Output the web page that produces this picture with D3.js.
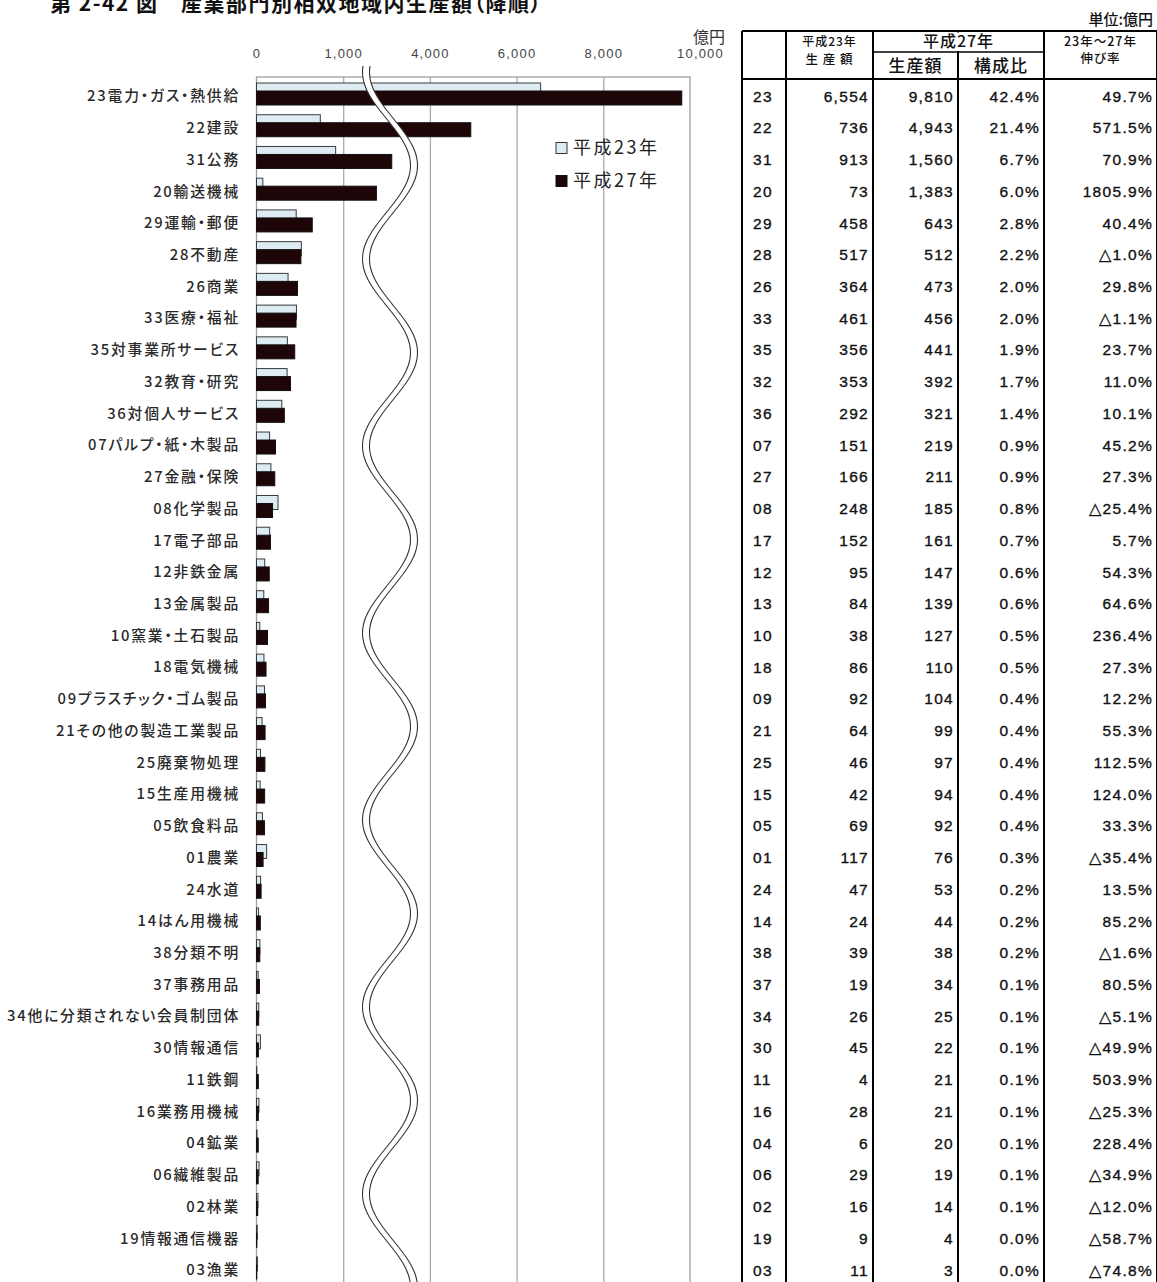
<!DOCTYPE html>
<html><head><meta charset="utf-8">
<script src="https://cdn.jsdelivr.net/npm/d3@7"></script>
<style>
body{margin:0;background:#fff;}
svg text{font-family:"Noto Sans CJK JP","Noto Sans",sans-serif;font-feature-settings:"palt";}
.num{font-family:"Liberation Sans",Arial,sans-serif !important;}
</style></head><body>
<svg id="c" width="1157" height="1282"></svg>
<script>
const codes = ["23","22","31","20","29","28","26","33","35","32","36","07","27","08","17","12","13","10","18","09","21","25","15","05","01","24","14","38","37","34","30","11","16","04","06","02","19","03"];
const names = ["電力・ガス・熱供給","建設","公務","輸送機械","運輸・郵便","不動産","商業","医療・福祉","対事業所サービス","教育・研究","対個人サービス","パルプ・紙・木製品","金融・保険","化学製品","電子部品","非鉄金属","金属製品","窯業・土石製品","電気機械","プラスチック・ゴム製品","その他の製造工業製品","廃棄物処理","生産用機械","飲食料品","農業","水道","はん用機械","分類不明","事務用品","他に分類されない会員制団体","情報通信","鉄鋼","業務用機械","鉱業","繊維製品","林業","情報通信機器","漁業"];
const h23 = [6554,736,913,73,458,517,364,461,356,353,292,151,166,248,152,95,84,38,86,92,64,46,42,69,117,47,24,39,19,26,45,4,28,6,29,16,9,11];
const h27 = [9810,4943,1560,1383,643,512,473,456,441,392,321,219,211,185,161,147,139,127,110,104,99,97,94,92,76,53,44,38,34,25,22,21,21,20,19,14,4,3];
const share = ["42.4%","21.4%","6.7%","6.0%","2.8%","2.2%","2.0%","2.0%","1.9%","1.7%","1.4%","0.9%","0.9%","0.8%","0.7%","0.6%","0.6%","0.5%","0.5%","0.4%","0.4%","0.4%","0.4%","0.4%","0.3%","0.2%","0.2%","0.2%","0.1%","0.1%","0.1%","0.1%","0.1%","0.1%","0.1%","0.1%","0.0%","0.0%"];
const growth = ["49.7%","571.5%","70.9%","1805.9%","40.4%","△1.0%","29.8%","△1.1%","23.7%","11.0%","10.1%","45.2%","27.3%","△25.4%","5.7%","54.3%","64.6%","236.4%","27.3%","12.2%","55.3%","112.5%","124.0%","33.3%","△35.4%","13.5%","85.2%","△1.6%","80.5%","△5.1%","△49.9%","503.9%","△25.3%","228.4%","△34.9%","△12.0%","△58.7%","△74.8%"];
const tickValues = [0,1000,4000,6000,8000,10000];
const seriesNames = ["平成23年","平成27年"];
const titleText = "第 2-42 図　産業部門別相双地域内生産額（降順）";

const rows = codes.map((c,i)=>({code:c,name:names[i],v23:h23[i],v27:h27[i],share:share[i],growth:growth[i]}));

const svg = d3.select("#c");
const x0 = 256.5, u = 86.7;
// broken axis: 0-2000 linear, 2000-4000 collapsed at the break, 4000-10000 at half scale
const x = d3.scaleLinear().domain([0,2000,4000,10000]).range([x0, x0+2*u, x0+2*u, x0+5*u]);
const rowH = 31.73, yc0 = 96;
const y = d3.scaleBand().domain(codes).range([yc0-rowH/2, yc0-rowH/2+rowH*codes.length]).padding(0);
const cy = c => y(c) + y.bandwidth()/2;
const boxTop = 77, boxBot = 1300;

// title
svg.append("text").attr("x",50).attr("y",11).attr("font-size",21).attr("letter-spacing","1.5px").attr("font-weight","bold").attr("fill","#111").text(titleText);

// plot frame + grid
const gGrid = svg.append("g").attr("transform",`translate(0,${boxTop})`)
  .call(d3.axisTop(x).tickValues(tickValues.slice(1,-1)).tickSize(-(boxBot-boxTop)).tickFormat(""));
gGrid.select(".domain").remove();
gGrid.selectAll("line").attr("stroke","#aaaaaa").attr("stroke-width",1.3);
svg.append("rect").attr("x",x(0)).attr("y",boxTop).attr("width",x(10000)-x(0)).attr("height",boxBot-boxTop)
  .attr("fill","none").attr("stroke","#a0a0a0").attr("stroke-width",1.3);

// tick labels
const gAx = svg.append("g").attr("transform",`translate(0,57.5)`)
  .call(d3.axisTop(x).tickValues(tickValues).tickSize(0).tickPadding(0).tickFormat(d3.format(",")));
gAx.select(".domain").remove();
gAx.selectAll("text").attr("class","num").attr("font-size",13).attr("letter-spacing","1.2px").attr("fill","#444")
  .attr("dx",d=>d===10000?"10":"0");
svg.append("text").attr("x",709).attr("y",43).attr("text-anchor","middle").attr("font-size",16).attr("fill","#333").text("億円");

// bars
const bh = 14;
svg.append("g").selectAll("rect").data(rows).join("rect")
  .attr("x",x(0)).attr("y",d=>cy(d.code)-13).attr("width",d=>x(d.v23)-x(0)).attr("height",bh)
  .attr("fill","#dcecf2").attr("stroke","#3a3a3a").attr("stroke-width",1);
svg.append("g").selectAll("rect").data(rows).join("rect")
  .attr("x",x(0)).attr("y",d=>cy(d.code)-5).attr("width",d=>x(d.v27)-x(0)).attr("height",bh)
  .attr("fill","#1e0508").attr("stroke","#111").attr("stroke-width",1);

// break band
const xc = 390, A = 24, P = 187, y0 = 72, off = 7;
const pts = d3.range(66, 1300, 2).map(yy => [xc - A*Math.cos(2*Math.PI*(yy-y0)/P), yy]);
const band = pts.map(p=>[p[0]-off/2,p[1]]).concat(pts.slice().reverse().map(p=>[p[0]+off/2,p[1]]));
svg.append("path").attr("d", d3.line()(band)+"Z").attr("fill","#fff").attr("stroke","none");
const ln = d3.line().curve(d3.curveBasis);
svg.append("path").attr("d", ln(pts.map(p=>[p[0]-off/2,p[1]]))).attr("fill","none").attr("stroke","#333").attr("stroke-width",1.1);
svg.append("path").attr("d", ln(pts.map(p=>[p[0]+off/2,p[1]]))).attr("fill","none").attr("stroke","#333").attr("stroke-width",1.1);

// category labels
svg.append("g").selectAll("text").data(rows).join("text")
  .attr("x",240).attr("y",d=>cy(d.code)).attr("dy","0.36em").attr("text-anchor","end")
  .attr("font-size",14.8).attr("font-weight",500).attr("letter-spacing","1.8px").attr("fill","#2a2a2a").text(d=>d.code+d.name);

// legend
const leg = svg.append("g");
seriesNames.forEach((s,i)=>{
  const ly = 148 + i*33;
  leg.append("rect").attr("x",556).attr("y",ly-5.5).attr("width",11).attr("height",11)
    .attr("fill", i? "#1e0508":"#dcecf2").attr("stroke",i?"#111":"#333").attr("stroke-width",1);
  leg.append("text").attr("x",573).attr("y",ly).attr("dy","0.36em").attr("font-size",18).attr("letter-spacing","2.5px").attr("fill","#222").text(s);
});

// table
const colX = [742, 786, 873, 958, 1044, 1157];
const tTop = 31, tMid = 52, tHead = 79, tBot = 1290;
const gt = svg.append("g");
colX.forEach(cx=>gt.append("line").attr("x1",cx).attr("x2",cx).attr("y1",tTop).attr("y2",tBot).attr("stroke","#000").attr("stroke-width",2));
gt.append("line").attr("x1",colX[0]).attr("x2",colX[5]).attr("y1",tTop).attr("y2",tTop).attr("stroke","#000").attr("stroke-width",2);
gt.append("line").attr("x1",colX[0]).attr("x2",colX[5]).attr("y1",tHead).attr("y2",tHead).attr("stroke","#000").attr("stroke-width",2);
gt.append("line").attr("x1",colX[2]).attr("x2",colX[4]).attr("y1",tMid).attr("y2",tMid).attr("stroke","#000").attr("stroke-width",1.5);
// hide the vertical line inside the 平成27年 merged header
gt.append("rect").attr("x",colX[3]-2).attr("y",tTop+1.5).attr("width",4).attr("height",tMid-tTop-2.5).attr("fill","#fff");

const hdr = [
  {x:(colX[1]+colX[2])/2, y:42, t:"平成23年", s:12},
  {x:(colX[1]+colX[2])/2, y:59, t:"生 産 額", s:12.5},
  {x:(colX[2]+colX[4])/2, y:41, t:"平成27年", s:16},
  {x:(colX[2]+colX[3])/2, y:66, t:"生産額", s:17},
  {x:(colX[3]+colX[4])/2, y:66, t:"構成比", s:17},
  {x:(colX[4]+colX[5])/2, y:41, t:"23年～27年", s:12.5},
  {x:(colX[4]+colX[5])/2, y:58, t:"伸び率", s:12.5}
];
gt.selectAll("text.h").data(hdr).join("text").attr("class","h")
  .attr("x",d=>d.x).attr("y",d=>d.y).attr("dy","0.36em").attr("text-anchor","middle")
  .attr("font-size",d=>d.s).attr("font-weight",500).attr("letter-spacing","1px").attr("fill","#111").text(d=>d.t);
svg.append("text").attr("x",1153).attr("y",20).attr("dy","0.36em").attr("text-anchor","end").attr("font-size",15).attr("font-weight",500).attr("fill","#111").text("単位:億円");

const fmt = d3.format(",");
const cols = [
  {x:753, a:"start", f:d=>d.code},
  {x:colX[2]-4, a:"end", f:d=>fmt(d.v23)},
  {x:colX[3]-4, a:"end", f:d=>fmt(d.v27)},
  {x:colX[4]-4, a:"end", f:d=>d.share},
  {x:1153, a:"end", f:d=>d.growth}
];
cols.forEach(c=>{
  gt.append("g").selectAll("text").data(rows).join("text").attr("class","num")
    .attr("x",c.x).attr("y",d=>cy(d.code)).attr("dy","0.36em").attr("text-anchor",c.a)
    .attr("font-size",15.5).attr("letter-spacing","1.3px").attr("fill","#111")
    .attr("stroke","#111").attr("stroke-width",0.35).text(c.f);
});
</script></body></html>
